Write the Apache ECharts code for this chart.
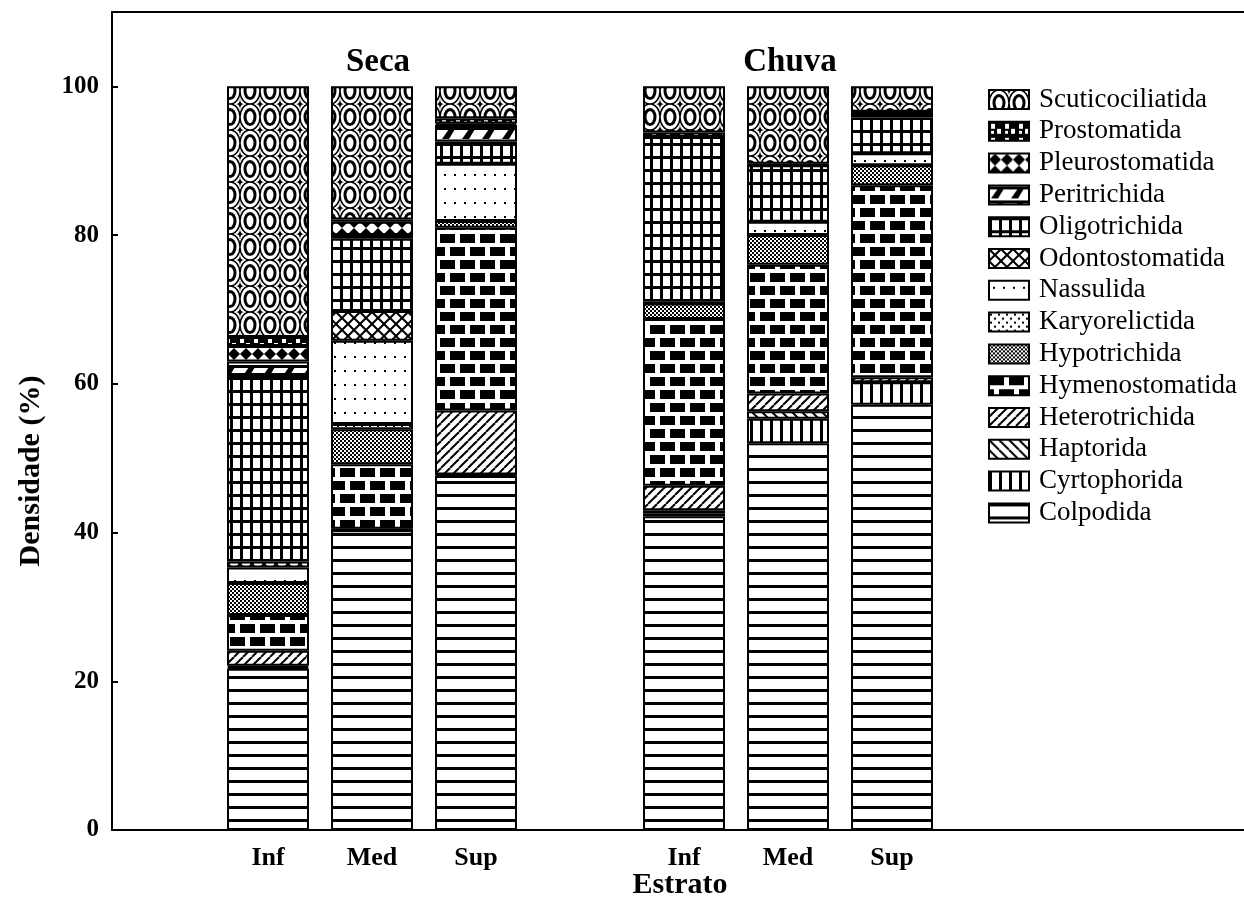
<!DOCTYPE html>
<html>
<head>
<meta charset="utf-8">
<title>Densidade de ciliados por estrato</title>
<script src="https://cdn.jsdelivr.net/npm/echarts@6/dist/echarts.min.js"></script>
<style>
  html, body { margin: 0; padding: 0; background: #fff; }
  #chart { width: 1244px; height: 922px; }
</style>
</head>
<body>
<div id="chart"></div>
<script>
// Category slots along the x axis (empty slots give the spacing between seasons)
const categories = ['', 'Inf', 'Med', 'Sup', '', 'Inf', 'Med', 'Sup', '', '', ''];
const seasonTitles = ['Seca', 'Chuva'];
const yTicks = [0, 20, 40, 60, 80, 100];

// Orders, stacked from the bottom of each bar upwards
const orders = ['Colpodida', 'Cyrtophorida', 'Haptorida', 'Heterotrichida', 'Hymenostomatida',
  'Hypotrichida', 'Karyorelictida', 'Nassulida', 'Odontostomatida', 'Oligotrichida',
  'Peritrichida', 'Pleurostomatida', 'Prostomatida', 'Scuticociliatida'];

// Density (%) per order for each bar: Seca Inf, Med, Sup, Chuva Inf, Med, Sup
const colpodida        = [21.7, 40.3, 47.6, 42.2, 52.0, 57.2];
const cyrtophorida     = [0.2, 0, 0.2, 0.4, 3.3, 3.0];
const haptorida        = [0.2, 0, 0, 0.4, 1.0, 0];
const heterotrichida   = [2.0, 0.2, 8.6, 3.3, 2.4, 0.7];
const hymenostomatida  = [4.8, 8.7, 24.6, 22.4, 17.3, 25.8];
const hypotrichida     = [4.3, 4.7, 0.9, 2.1, 4.0, 2.7];
const karyorelictida   = [0, 0.7, 0, 0, 0, 0];
const nassulida        = [2.1, 11.2, 7.7, 0, 1.8, 1.6];
const odontostomatida  = [0.8, 4.0, 0, 0.3, 0, 0];
const oligotrichida    = [25.1, 9.7, 3.0, 22.1, 7.6, 4.8];
const peritrichida     = [1.8, 0.5, 2.2, 0, 0, 0.8];
const pleurostomatida  = [2.1, 1.8, 0.2, 0, 0, 0];
const prostomatida     = [1.2, 0.3, 0.7, 0.6, 0.2, 0];
const scuticociliatida = [33.7, 17.9, 4.3, 6.2, 10.4, 3.4];

const valuesByOrder = [colpodida, cyrtophorida, haptorida, heterotrichida, hymenostomatida,
  hypotrichida, karyorelictida, nassulida, odontostomatida, oligotrichida,
  peritrichida, pleurostomatida, prostomatida, scuticociliatida];

// Category slot of each bar
const barSlots = [1, 2, 3, 5, 6, 7];

// ---- monochrome fill patterns ----
function tile(w, h, draw) {
  const c = document.createElement('canvas');
  c.width = w; c.height = h;
  const g = c.getContext('2d');
  g.fillStyle = '#fff'; g.fillRect(0, 0, w, h);
  g.fillStyle = '#000'; g.strokeStyle = '#000';
  draw(g, w, h);
  return { image: c, repeat: 'repeat' };
}

function concaveStar(g, cx, cy, rx, ry) {
  g.beginPath();
  g.moveTo(cx, cy - ry);
  g.quadraticCurveTo(cx, cy, cx + rx, cy);
  g.quadraticCurveTo(cx, cy, cx, cy + ry);
  g.quadraticCurveTo(cx, cy, cx - rx, cy);
  g.quadraticCurveTo(cx, cy, cx, cy - ry);
  g.closePath();
  g.fill();
}

const patterns = {
  Colpodida: tile(10, 13, g => { g.fillRect(0, 0, 10, 3); }),
  Cyrtophorida: tile(10, 10, g => { g.fillRect(0, 0, 3, 10); }),
  Haptorida: tile(10, 10, g => {
    g.lineWidth = 2;
    for (let k = -1; k <= 1; k++) { g.beginPath(); g.moveTo(k * 10, 0); g.lineTo(k * 10 + 10, 10); g.stroke(); }
  }),
  Heterotrichida: tile(9, 9, g => {
    g.lineWidth = 2;
    for (let k = -1; k <= 1; k++) { g.beginPath(); g.moveTo(k * 9, 9); g.lineTo(k * 9 + 9, 0); g.stroke(); }
  }),
  Hymenostomatida: tile(20, 26, g => {
    g.fillRect(0, 0, 20, 26);
    g.fillStyle = '#fff';
    g.fillRect(0, 9, 20, 4);
    g.fillRect(0, 22, 20, 4);
    g.fillRect(15, 0, 5, 9);
    g.fillRect(5, 13, 5, 9);
  }),
  Hypotrichida: tile(4, 4, g => { g.fillRect(0, 0, 2, 2); g.fillRect(2, 2, 2, 2); }),
  Karyorelictida: tile(8, 8, g => { g.fillRect(1, 1, 2, 2); g.fillRect(5, 5, 2, 2); }),
  Nassulida: tile(10, 14, g => { g.fillRect(4, 6, 2, 2); }),
  Odontostomatida: tile(12, 12, g => {
    g.lineWidth = 2;
    for (let k = -1; k <= 1; k++) {
      g.beginPath(); g.moveTo(k * 12, 0); g.lineTo(k * 12 + 12, 12); g.stroke();
      g.beginPath(); g.moveTo(k * 12, 12); g.lineTo(k * 12 + 12, 0); g.stroke();
    }
  }),
  Oligotrichida: tile(10, 13, g => { g.fillRect(0, 0, 10, 3); g.fillRect(0, 0, 3, 13); }),
  Peritrichida: tile(20, 14, g => {
    g.fillRect(0, 1, 20, 3);
    g.beginPath(); g.moveTo(2, 13); g.lineTo(9, 3); g.lineTo(15, 3); g.lineTo(9, 13); g.closePath(); g.fill();
  }),
  Pleurostomatida: tile(12, 12, g => {
    g.beginPath(); g.moveTo(6, 0); g.lineTo(12, 6); g.lineTo(6, 12); g.lineTo(0, 6); g.closePath(); g.fill();
  }),
  Prostomatida: tile(14, 14, g => {
    g.fillRect(0, 0, 14, 14);
    g.fillStyle = '#fff';
    g.fillRect(2, 2, 4, 5);
    g.fillRect(8, 7, 4, 5);
    g.fillRect(2, 9, 3, 3);
  }),
  Scuticociliatida: tile(20, 26, g => {
    // outer oval outlines touching their neighbours
    g.lineWidth = 1.5;
    g.beginPath(); g.ellipse(10, 13, 10, 13, 0, 0, Math.PI * 2); g.stroke();
    // inner ring
    g.lineWidth = 3;
    g.beginPath(); g.ellipse(10, 13, 5, 7.5, 0, 0, Math.PI * 2); g.stroke();
    // small concave diamonds between the ovals
    [[0, 0], [20, 0], [0, 26], [20, 26]].forEach(([cx, cy]) => concaveStar(g, cx, cy, 4, 6));
  })
};

const serif = '"Liberation Serif", "Times New Roman", serif';

const series = orders.map((name, i) => {
  const data = categories.map(() => null);
  barSlots.forEach((slot, b) => { data[slot] = valuesByOrder[i][b]; });
  return {
    name: name,
    type: 'bar',
    stack: 'total',
    barWidth: 82,
    data: data,
    itemStyle: { color: patterns[name], borderColor: '#000', borderWidth: 2 },
    emphasis: { disabled: true },
    animation: false
  };
});

const chart = echarts.init(document.getElementById('chart'), null, { renderer: 'canvas' });
chart.setOption({
  backgroundColor: '#fff',
  animation: false,
  grid: {
    left: 112, top: 12, width: 1144, height: 818,
    outerBoundsMode: 'none',
    containLabel: false,
    show: true, borderColor: '#000', borderWidth: 2, backgroundColor: 'transparent'
  },
  legend: {
    data: orders.slice().reverse(),
    orient: 'vertical',
    left: 983, top: 81,
    icon: 'rect',
    itemWidth: 40, itemHeight: 19, itemGap: 4.8,
    selectedMode: false,
    textStyle: { fontFamily: serif, fontSize: 27, color: '#000', padding: [0, 0, 0, 5] }
  },
  xAxis: {
    type: 'category',
    data: categories,
    axisLine: { lineStyle: { color: '#000', width: 2 } },
    axisTick: { show: false },
    axisLabel: { interval: 0, margin: 15, color: '#000', fontFamily: serif, fontSize: 26, fontWeight: 'bold' },
    splitLine: { show: false }
  },
  yAxis: {
    type: 'value',
    min: 0, max: 110, interval: 20,
    axisLine: { show: true, lineStyle: { color: '#000', width: 2 } },
    axisTick: { show: true, inside: true, length: 6, lineStyle: { color: '#000', width: 2 } },
    axisLabel: {
      margin: 13, color: '#000', fontFamily: serif, fontSize: 25, fontWeight: 'bold',
      showMaxLabel: false,
      formatter: v => (yTicks.indexOf(v) >= 0 ? String(v) : '')
    },
    splitLine: { show: false }
  },
  graphic: [
    { type: 'text', x: 378, y: 62, style: { text: seasonTitles[0], font: 'bold 33px ' + serif, fill: '#000', align: 'center', verticalAlign: 'middle' } },
    { type: 'text', x: 790, y: 62, style: { text: seasonTitles[1], font: 'bold 33px ' + serif, fill: '#000', align: 'center', verticalAlign: 'middle' } },
    { type: 'text', x: 31, y: 471, rotation: Math.PI / 2,
      style: { text: 'Densidade (%)', font: 'bold 30px ' + serif, fill: '#000', align: 'center', verticalAlign: 'middle' } },
    { type: 'text', x: 680, y: 885,
      style: { text: 'Estrato', font: 'bold 30px ' + serif, fill: '#000', align: 'center', verticalAlign: 'middle' } }
  ],
  series: series
});
</script>
</body>
</html>
